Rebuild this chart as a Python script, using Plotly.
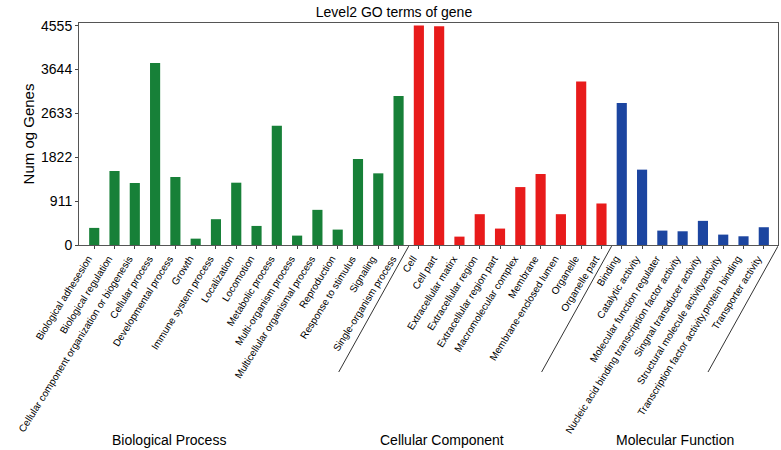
import plotly.graph_objects as go

bp_terms = ["Biological adhesesion", "Biological regulation",
            "Cellular component organization or biogenesis", "Cellular process",
            "Developmental process", "Growth", "Immune system process", "Localization",
            "Locomotion", "Metabolic process", "Multi-organism process",
            "Multicellular organismal process", "Reproduction", "Response to stimulus",
            "Signaling", "Single-organism process"]
bp_values = [355, 1537, 1287, 3777, 1412, 132, 536, 1294, 396, 2476, 195, 730, 320, 1787, 1488, 3095]

cc_terms = ["Cell", "Cell part", "Extracellular matirx", "Extracellular region",
            "Extracellular region part", "Macromolecular complex", "Membrane",
            "Membrane-enclosed lumen", "Organelle", "Organelle part"]
cc_values = [4560, 4542, 174, 640, 341, 1203, 1474, 640, 3394, 862]

mf_terms = ["Binding", "Catalytic activity", "Molecular function regulater",
            "Nucleic acid binding transcription factor activity",
            "Singnal transducer activity", "Structural molecule activityactivity",
            "Transcription factor activity,protein binding", "Transporter activity"]
mf_values = [2949, 1565, 299, 285, 501, 216, 181, 369]

group_names = ["Biological Process", "Cellular Component", "Molecular Function"]
group_colors = ["#178038", "#e81b1b", "#1c45a0"]

ytick_vals = [0, 911, 1822, 2733, 3644, 4555]
ytick_text = ["0", "911", "1822", "2633", "3644", "4555"]

groups = [(bp_terms, bp_values), (cc_terms, cc_values), (mf_terms, mf_values)]

fig = go.Figure()
all_terms = []
start = 0
bounds = []
for (terms, vals), name, col in zip(groups, group_names, group_colors):
    idx = list(range(start, start + len(terms)))
    fig.add_trace(go.Bar(x=idx, y=vals, name=name, marker=dict(color=col, line=dict(width=0)),
                         width=0.5, showlegend=False))
    all_terms += terms
    bounds.append((start, start + len(terms)))
    start += len(terms)

n = len(all_terms)
font = "Liberation Sans, Arial, sans-serif"

fig.update_layout(
    width=781, height=450,
    margin=dict(l=79, r=3, t=23, b=205, autoexpand=False),
    plot_bgcolor="white", paper_bgcolor="white",
    font=dict(family=font, color="black"),
    title=dict(text="Level2 GO terms of gene", x=394/781, xanchor="center",
               y=1 - 12/450, yanchor="middle", yref="container",
               font=dict(size=14, family=font, color="black")),
    bargap=0.5,
)
fig.update_xaxes(
    automargin=False,
    range=[-0.75, n - 0.3],
    tickmode="array", tickvals=list(range(n)), ticktext=all_terms,
    tickangle=-58, tickfont=dict(size=10, family=font, color="black"),
    ticklabelshift=-6,
    ticks="outside", ticklen=3, tickcolor="#444",
    showline=True, linecolor="#555", linewidth=1, mirror=True,
    showgrid=False, zeroline=False,
)
fig.update_yaxes(
    automargin=False,
    range=[0, 4610],
    tickmode="array", tickvals=ytick_vals, ticktext=ytick_text,
    tickfont=dict(size=14, family=font, color="black"),
    ticks="outside", ticklen=3, tickcolor="#444",
    showline=True, linecolor="#555", linewidth=1, mirror=True,
    showgrid=False, zeroline=False,
    title=dict(text="Num og Genes", font=dict(size=15, family=font, color="black"), standoff=2),
)

# group divider lines
edges = [-0.85] + [b[1] - 0.5 for b in bounds[:-1]] + [n - 0.3]
for e in edges:
    fig.add_shape(type="line", xref="x", yref="paper",
                  x0=e, y0=-0.005, x1=e - 3.45, y1=-(372 - 245) / 222,
                  line=dict(color="#333", width=1))

label_x = [3.69, 17.14, 28.62]
for name, lx in zip(group_names, label_x):
    fig.add_annotation(text=name, x=lx, xref="x", y=-(440 - 245) / 222, yref="paper",
                       showarrow=False, xanchor="center", yanchor="middle",
                       font=dict(size=14, family=font, color="black"))

fig.write_html("out.html", post_script="document.body.style.margin='0';",
               config={"displayModeBar": False})
